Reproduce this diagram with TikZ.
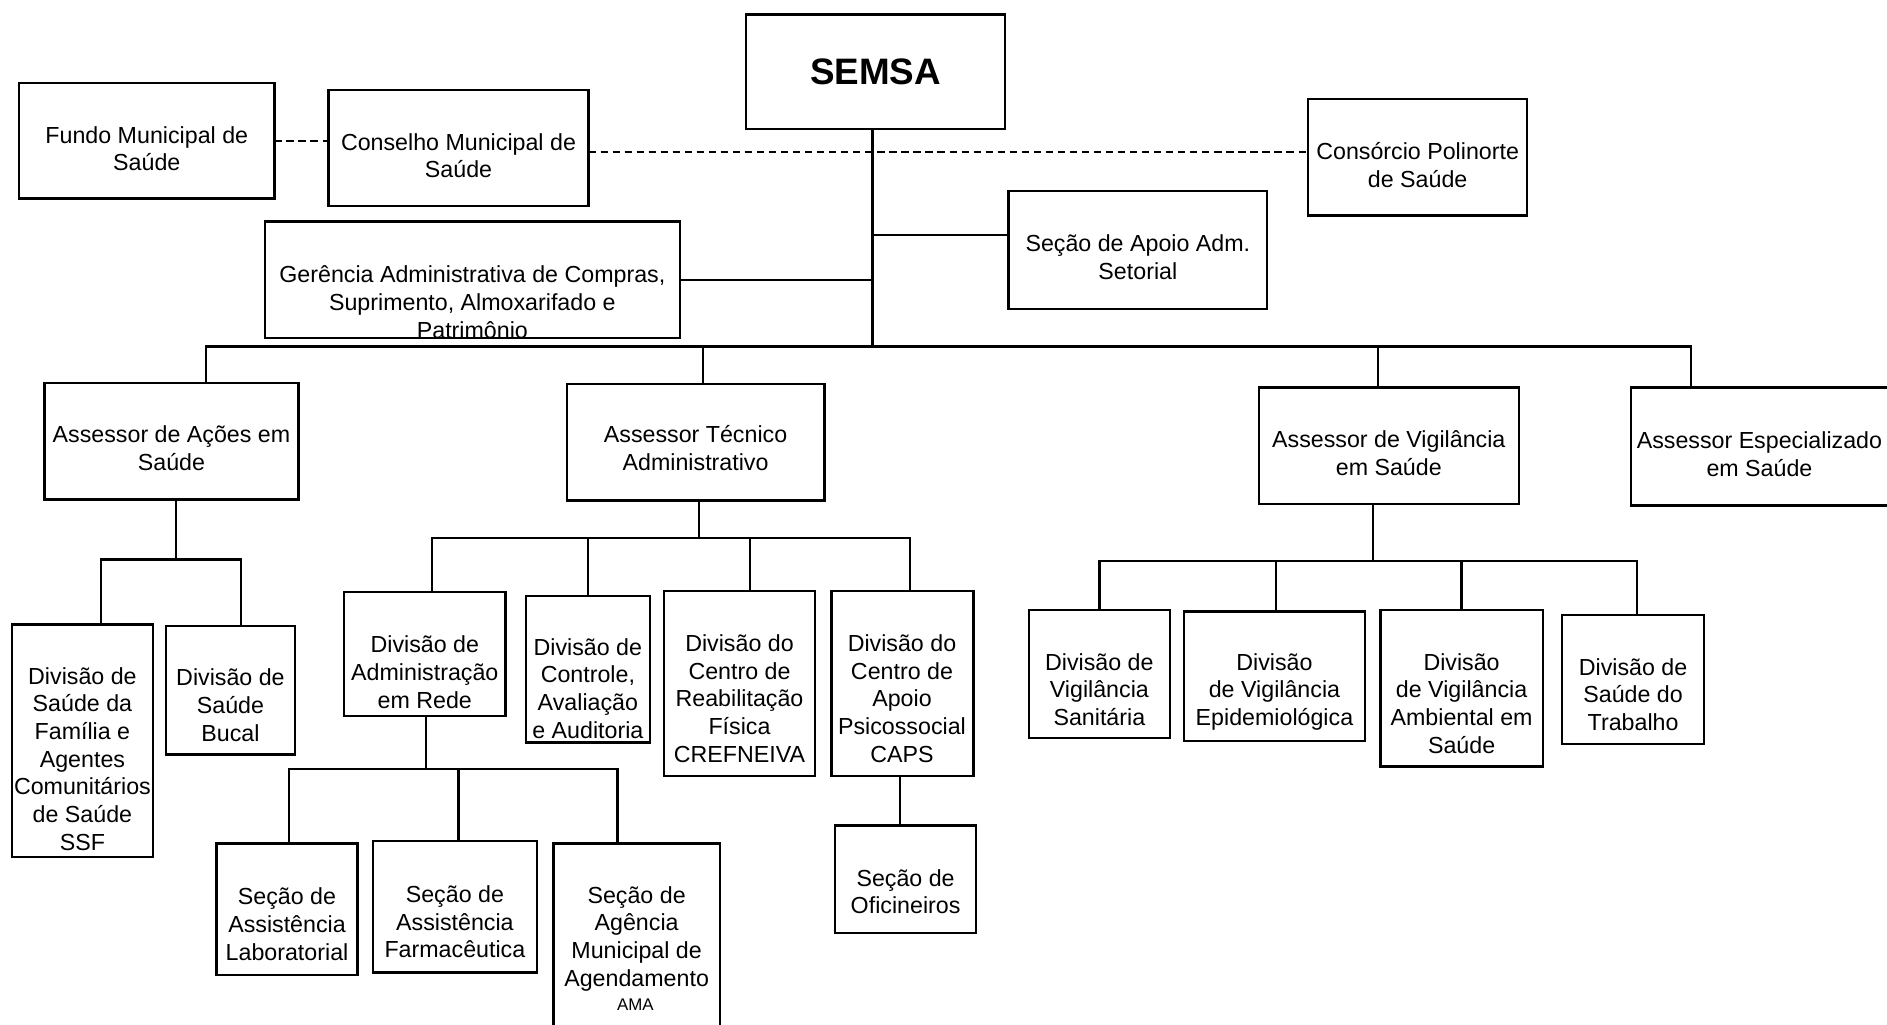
\documentclass[tikz,border=0pt]{standalone}
\usepackage{fontspec}
\setmainfont{Liberation Sans}
\begin{document}
\begin{tikzpicture}[x=1pt,y=-1pt,
  box/.style={draw, line width=1.9pt, inner sep=0pt, outer sep=0pt},
  txt/.style={align=center, inner sep=0pt, font=\fontsize{19.3}{23}\selectfont},
  conn/.style={line width=1.9pt},
  dashconn/.style={line width=1.6pt, dash pattern=on 6pt off 4pt}]
\useasboundingbox (0,0) rectangle (1568,851);
\fill[white] (0,0) rectangle (1568,851);

% ---- top level
\node[box, minimum width=215pt, minimum height=95pt] (semsa) at (727.5,59.5) {};
\node[inner sep=0pt, font=\fontsize{30.6}{34}\selectfont\bfseries] (semsaT) at (727.5,60) {SEMSA};

\node[box, minimum width=212pt, minimum height=96pt] (fundo) at (122,117) {};
\node[txt] (fundoT) at (122,123.5) {Fundo Municipal de\\Saúde};

\node[box, minimum width=216pt, minimum height=96pt] (conselho) at (381,123) {};
\node[txt] (conselhoT) at (381,129.5) {Conselho Municipal de\\Saúde};

\node[box, minimum width=182pt, minimum height=97pt] (consorcio) at (1178,130.5) {};
\node[txt] (consorcioT) at (1178,137) {Consórcio Polinorte\\de Saúde};

\node[box, minimum width=215pt, minimum height=98pt] (apoio) at (945.5,208) {};
\node[txt] (apoioT) at (945.5,213.5) {Seção de Apoio Adm.\\Setorial};

\node[box, minimum width=345pt, minimum height=97pt] (ger) at (392.5,232.5) {};
\node[txt] (gerT) at (392.5,251) {Gerência Administrativa de Compras,\\Suprimento, Almoxarifado e\\Patrimônio};

% ---- assessors
\node[box, minimum width=211pt, minimum height=97pt] (acoes) at (142.5,366.5) {};
\node[txt] (acoesT) at (142.5,372.5) {Assessor de Ações em\\Saúde};

\node[box, minimum width=214pt, minimum height=97pt] (tecnico) at (578,367.5) {};
\node[txt] (tecnicoT) at (578,372.5) {Assessor Técnico\\Administrativo};

\node[box, minimum width=216pt, minimum height=97pt] (vig) at (1154,370.5) {};
\node[txt] (vigT) at (1154,376.5) {Assessor de Vigilância\\em Saúde};

\node[box, minimum width=225pt, minimum height=98pt] (esp) at (1467.5,371) {};
\node[txt] (espT) at (1462,377.5) {Assessor Especializado\\em Saúde};

% ---- divisions under Ações
\node[box, minimum width=117pt, minimum height=193pt] (fam) at (68.5,615.5) {};
\node[txt] (famT) at (68.5,630.5) {Divisão de\\Saúde da\\Família e\\Agentes\\Comunitários\\de Saúde\\SSF};

\node[box, minimum width=107pt, minimum height=107pt] (bucal) at (191.5,573.5) {};
\node[txt] (bucalT) at (191.5,586) {Divisão de\\Saúde\\Bucal};

% ---- divisions under Técnico
\node[box, minimum width=134pt, minimum height=103pt] (admin) at (353,543.5) {};
\node[txt] (adminT) at (353,558.5) {Divisão de\\Administração\\em Rede};

\node[box, minimum width=103pt, minimum height=122pt] (controle) at (488.5,556) {};
\node[txt] (controleT) at (488.5,572) {Divisão de\\Controle,\\Avaliação\\e Auditoria};

\node[box, minimum width=125pt, minimum height=154pt] (crefn) at (614.5,568) {};
\node[txt] (crefnT) at (614.5,580.5) {Divisão do\\Centro de\\Reabilitação\\Física\\CREFNEIVA};

\node[box, minimum width=118pt, minimum height=154pt] (caps) at (750,568) {};
\node[txt] (capsT) at (749.5,580.5) {Divisão do\\Centro de\\Apoio\\Psicossocial\\CAPS};

\node[box, minimum width=117pt, minimum height=89pt] (ofic) at (752.5,730.5) {};
\node[txt] (oficT) at (752.5,741) {Seção de\\Oficineiros};

% ---- sections under Administração em Rede
\node[box, minimum width=117pt, minimum height=109pt] (lab) at (238.5,755.5) {};
\node[txt] (labT) at (238.5,768) {Seção de\\Assistência\\Laboratorial};

\node[box, minimum width=136pt, minimum height=109pt] (farm) at (378,753.5) {};
\node[txt] (farmT) at (378,766) {Seção de\\Assistência\\Farmacêutica};

\node[box, minimum width=138pt, minimum height=159pt] (ama) at (529,780.5) {};
\node[txt] (amaT) at (529,780) {Seção de\\Agência\\Municipal de\\Agendamento};
\node[inner sep=0pt, font=\fontsize{14}{16}\selectfont] (amaT2) at (528,835) {AMA};

% ---- divisions under Vigilância
\node[box, minimum width=117pt, minimum height=106pt] (sanit) at (913.5,560) {};
\node[txt] (sanitT) at (913.5,573) {Divisão de\\Vigilância\\Sanitária};

\node[box, minimum width=150pt, minimum height=108pt] (epid) at (1059,562) {};
\node[txt] (epidT) at (1059,575) {Divisão\\de Vigilância\\Epidemiológica};

\node[box, minimum width=135pt, minimum height=130pt] (amb) at (1214.5,572) {};
\node[txt] (ambT) at (1214.5,584.5) {Divisão\\de Vigilância\\Ambiental em\\Saúde};

\node[box, minimum width=118pt, minimum height=107pt] (trab) at (1357,564.5) {};
\node[txt] (trabT) at (1357,577) {Divisão de\\Saúde do\\Trabalho};

% ---- bus junction coordinates
\coordinate (trunk) at (725,288);
\coordinate (acoesBus) at (146,465);
\coordinate (tecBus) at (581,447);
\coordinate (adminBus) at (354,639);
\coordinate (vigBus) at (1141,466);

% ---- dashed links
\draw[dashconn] (fundo.east) -- (fundo.east -| conselho.west);
\draw[dashconn] ([yshift=-3pt]conselho.east) -- ([yshift=-3pt]conselho.east -| consorcio.west);

% ---- main trunk
\draw[conn] (semsa.south -| trunk) -- (trunk);
\draw[conn] (ger.east) -- (ger.east -| trunk);
\draw[conn] ([yshift=13pt]apoio.west) -- ([yshift=13pt]apoio.west -| trunk);
\draw[conn] ([xshift=28.5pt]acoes.north) |- (trunk);
\draw[conn] ([xshift=6pt]tecnico.north) |- (trunk);
\draw[conn] ([xshift=-9pt]vig.north) |- (trunk);
\draw[conn] ([xshift=-62.5pt]esp.north) |- (trunk);

% ---- Ações
\draw[conn] ([xshift=3.5pt]acoes.south) -- (acoesBus);
\draw[conn] ([xshift=15.5pt]fam.north) |- (acoesBus);
\draw[conn] ([xshift=8.5pt]bucal.north) |- (acoesBus);

% ---- Técnico
\draw[conn] ([xshift=3pt]tecnico.south) -- (tecBus);
\draw[conn] ([xshift=6pt]admin.north) |- (tecBus);
\draw[conn] (controle.north) |- (tecBus);
\draw[conn] ([xshift=8.5pt]crefn.north) |- (tecBus);
\draw[conn] ([xshift=6pt]caps.north) |- (tecBus);
\draw[conn] ([xshift=-2pt]caps.south) -- ([xshift=-2pt]caps.south |- ofic.north);

% ---- Administração em Rede
\draw[conn] ([xshift=1pt]admin.south) -- (adminBus);
\draw[conn] ([xshift=1.5pt]lab.north) |- (adminBus);
\draw[conn] ([xshift=3pt]farm.north) |- (adminBus);
\draw[conn] ([xshift=-16pt]ama.north) |- (adminBus);

% ---- Vigilância
\draw[conn] ([xshift=-13pt]vig.south) -- (vigBus);
\draw[conn] (sanit.north) |- (vigBus);
\draw[conn] ([xshift=1pt]epid.north) |- (vigBus);
\draw[conn] (amb.north) |- (vigBus);
\draw[conn] ([xshift=3pt]trab.north) |- (vigBus);
\end{tikzpicture}
\end{document}
